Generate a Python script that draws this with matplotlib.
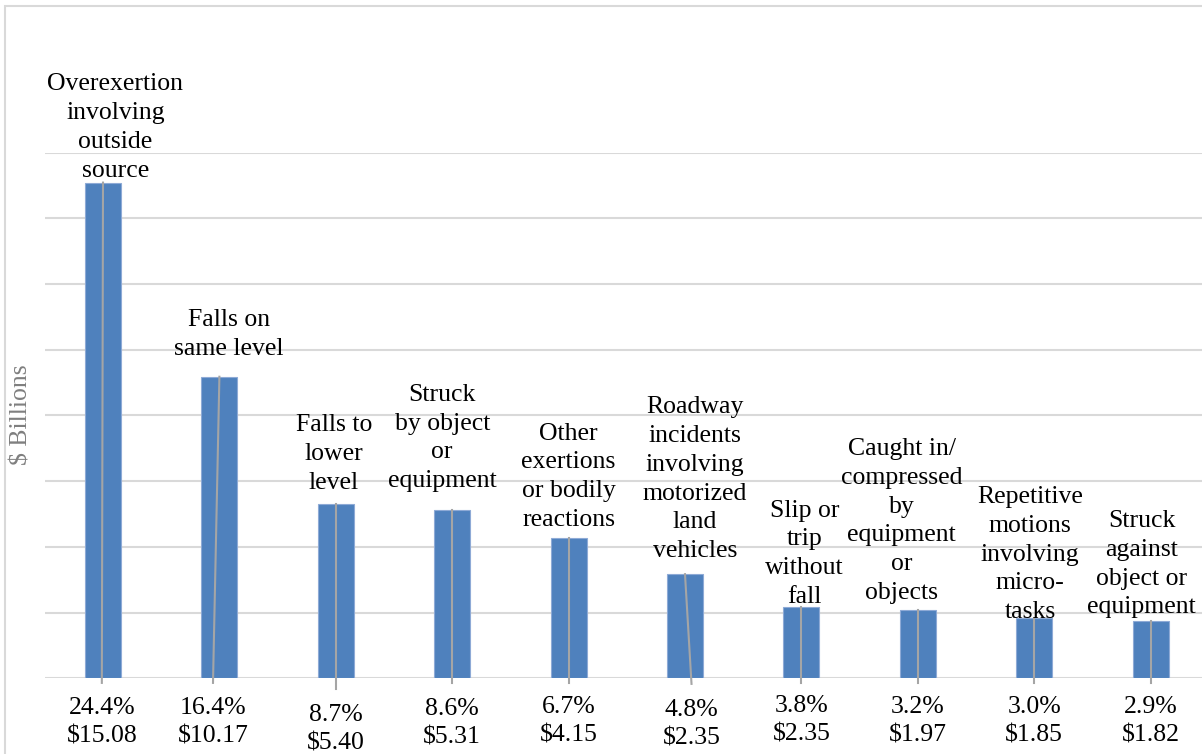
"""
Workplace injury cost by cause, bar chart with leader-line labels.
"""

import matplotlib
matplotlib.use("Agg")
import matplotlib.pyplot as plt
from matplotlib.patches import Rectangle

# data
categories = [
    "Overexertion\ninvolving\noutside\nsource",
    "Falls on\nsame level",
    "Falls to\nlower\nlevel",
    "Struck\nby object\nor\nequipment",
    "Other\nexertions\nor bodily\nreactions",
    "Roadway\nincidents\ninvolving\nmotorized\nland\nvehicles",
    "Slip or\ntrip\nwithout\nfall",
    "Caught in/\ncompressed\nby\nequipment\nor\nobjects",
    "Repetitive\nmotions\ninvolving\nmicro-\ntasks",
    "Struck\nagainst\nobject or\nequipment",
]
bar_heights = [15.09, 9.18, 5.30, 5.11, 4.26, 3.17, 2.16, 2.08, 1.83, 1.74]
shares = ["24.4%", "16.4%", "8.7%", "8.6%", "6.7%", "4.8%", "3.8%", "3.2%", "3.0%", "2.9%"]
costs = ["$15.08", "$10.17", "$5.40", "$5.31", "$4.15", "$2.35", "$2.35", "$1.97", "$1.85", "$1.82"]
y_ticks = [0, 2, 4, 6, 8, 10, 12, 14, 16]

# label layout (pixels / category units)
top_dx = [12.5, 9.5, -2, -10, 0, 10, 3, -16, -4, -9]
top_offsets = [55, 42, 50, 72.5, 61.5, 95, 53.5, 89, 63.5, 57]
bottom_offsets = [-44, -44, -51, -45, -43, -46, -42, -43, -43, -43]
label_dx = [-0.01, -0.055, 0, 0, 0, 0.056, 0, 0, 0, 0]
leader_end = [-0.14, -0.14, -0.33, -0.14, -0.14, -0.17, -0.14, -0.14, -0.14, -0.14]

BLUE = "#4F81BD"
GRID = "#D9D9D9"
LEADER = "#A5A5A5"
FONT = "Liberation Serif"

plt.rcParams["font.family"] = FONT

W, H = 1202, 754
fig = plt.figure(figsize=(W / 100, H / 100), dpi=100)

# chart frame
fig.patches.append(
    Rectangle(
        (4.5 / W, -0.1), 1.2, (H - 6) / H + 0.1,
        transform=fig.transFigure, fill=False,
        edgecolor=GRID, linewidth=1.5
    )
)

ax = fig.add_axes([44.8 / W, 75.7 / H, 1164 / W, 525.6 / H])

x = list(range(len(categories)))

ax.bar(
    x, bar_heights, width=0.31, color=BLUE,
    edgecolor="#8EAAD6", linewidth=0.8, zorder=2
)

ax.set_xlim(-0.5, len(categories) - 0.5)
ax.set_ylim(0, 16)
ax.set_yticks(y_ticks)
ax.yaxis.grid(True, color=GRID, linewidth=1.5)
ax.set_axisbelow(True)
ax.tick_params(left=False, bottom=False, labelleft=False, labelbottom=False)
for spine in ax.spines.values():
    spine.set_visible(False)

for i, h in enumerate(bar_heights):
    # leader line from bar top to the value label
    ax.plot(
        [i, i + label_dx[i]], [h, leader_end[i]],
        color=LEADER, linewidth=1.5, zorder=3, clip_on=False
    )
    ax.annotate(
        categories[i], xy=(i, h), xytext=(top_dx[i], top_offsets[i]),
        textcoords="offset pixels", ha="center", va="center",
        multialignment="center", fontsize=18.5, linespacing=1.4,
        annotation_clip=False
    )
    ax.annotate(
        f"{shares[i]}\n{costs[i]}", xy=(i + label_dx[i], 0),
        xytext=(0, bottom_offsets[i]), textcoords="offset pixels",
        ha="center", va="center", multialignment="center",
        fontsize=18.5, linespacing=1.4, annotation_clip=False
    )

fig.text(
    22 / W, 1 - 415 / H, "$ Billions", rotation=90,
    ha="center", va="center", fontsize=18.5, color="#7F7F7F"
)

fig.savefig("out.png", dpi=100)
plt.close(fig)
